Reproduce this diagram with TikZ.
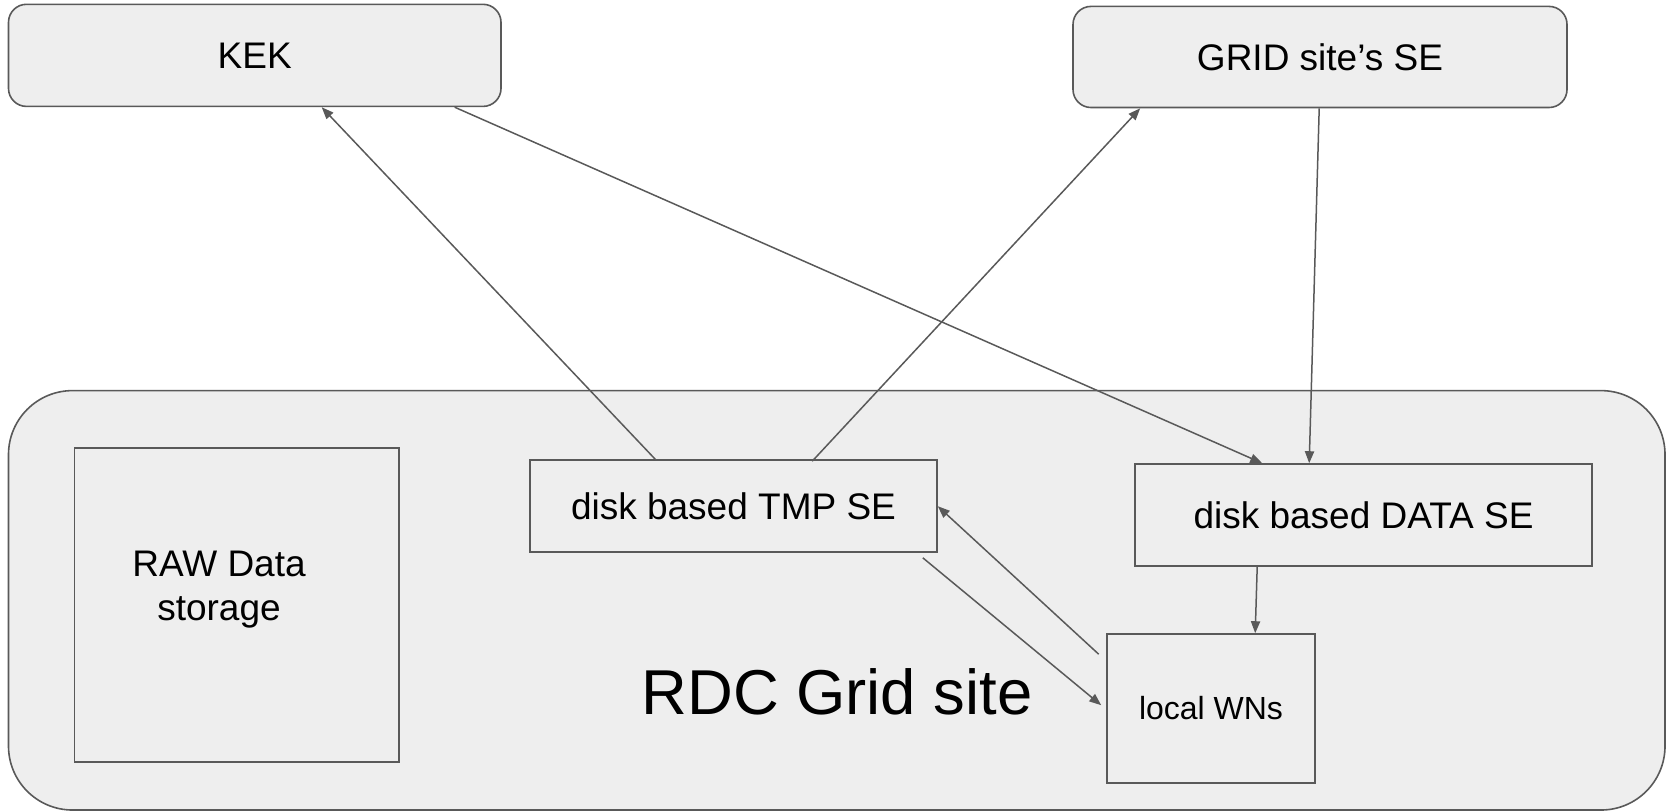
\documentclass[tikz,border=0pt]{standalone}
\usepackage{fontspec}
\setmainfont{Liberation Sans}
\usetikzlibrary{arrows.meta,calc}
\definecolor{boxfill}{HTML}{EEEEEE}
\definecolor{edge}{HTML}{595959}
\tikzset{
  roundbox/.style={draw=edge, fill=boxfill, line width=0.8pt, rounded corners=9pt,
    inner sep=0pt, font=\fontsize{18.5}{22}\selectfont},
  sharpbox/.style={draw=edge, fill=boxfill, line width=0.8pt, inner sep=0pt,
    font=\fontsize{18.5}{22}\selectfont},
  flow/.style={draw=edge, line width=0.75pt, -{Triangle[length=6pt,width=4.6pt]}},
}
\begin{document}
\begin{tikzpicture}[x=0.5pt,y=-0.5pt]
\useasboundingbox (0,0) rectangle (1669,811);

% top-level storage endpoints
\node[roundbox, minimum width=246.25pt, minimum height=51.05pt] (kek) at (254.75,55.35) {KEK};
\node[roundbox, minimum width=247pt, minimum height=50.55pt] (grid) at (1320,56.95) {GRID site’s SE};

% the RDC site and its components
\node[draw=edge, fill=boxfill, line width=0.8pt, rounded corners=32pt, inner sep=0pt,
      minimum width=828.25pt, minimum height=209.7pt] (site) at (836.75,600.3) {};
\node[font=\fontsize{31.7}{36}\selectfont] (sitename) at (837,692) {RDC Grid site};

\node[sharpbox, minimum width=162.25pt, minimum height=157pt] (raw) at (236.75,605) {};
\node[align=center, font=\fontsize{18.5}{22}\selectfont] (rawtext) at (219,590) {RAW Data\\storage};

\node[sharpbox, minimum width=203.5pt, minimum height=46pt] (tmp) at (733.5,506) {disk based TMP SE};
\node[sharpbox, minimum width=228.5pt, minimum height=51pt] (data) at (1363.5,515) {disk based DATA SE};
\node[sharpbox, minimum width=104pt, minimum height=74.5pt, font=\fontsize{16}{19}\selectfont] (wns) at (1211,708.5) {local WNs};

% transfers
\draw[flow] ($(tmp.north west)+(126,0)$) -- ($(kek.south west)+(314,0)$);
\draw[flow] ($(tmp.north west)+(283,2)$) -- ($(grid.south west)+(68,0)$);
\draw[flow] ($(kek.south west)+(447,0)$) -- ($(data.north west)+(128,0)$);
\draw[flow] ($(grid.south west)+(247,0)$) -- ($(data.north west)+(175,0)$);
\draw[flow] ($(data.south west)+(123,0)$) -- ($(wns.north west)+(149,0)$);
\draw[flow] ($(tmp.south east)+(-15,5)$) -- ($(wns.north west)+(-5,72)$);
\draw[flow] ($(wns.north west)+(-7.5,21)$) -- ($(tmp.north east)+(0,47)$);
\end{tikzpicture}
\end{document}
